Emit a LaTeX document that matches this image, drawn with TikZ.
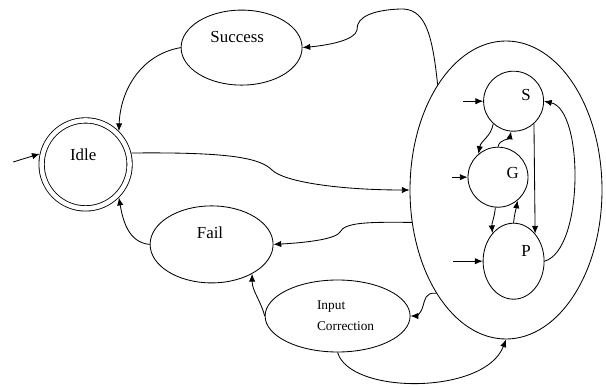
\documentclass[tikz,border=0pt]{standalone}
\usepackage{fontspec}
\setmainfont{Liberation Serif}
\usepackage{tikz}
\usetikzlibrary{arrows.meta}
\usetikzlibrary{shapes.geometric}
\tikzset{
  >={Latex[length=5.5pt,width=4.5pt]},
  medline/.style={draw=black,line width=0.6pt},
  medlinep/.style={draw=black,line width=0.6pt,->},
  statecirc/.style={draw=black,line width=0.6pt,circle,inner sep=0pt},
  stateell/.style={draw=black,line width=0.6pt,ellipse,inner sep=0pt},
  idlestate/.style={statecirc,double,double distance=3.2pt,outer sep=2.2pt},
  every label/.style={font=\fontsize{12}{14}\selectfont,inner sep=0pt}
}

\begin{document}
\begin{tikzpicture}
  \useasboundingbox (0,0) rectangle (15.15,-9.675);
  % outer states
  \node (IDLE)    at ( 2.14,-4.11) [idlestate,minimum size=2.2cm,label={[xshift=-0.06cm,yshift=0.24cm]center:Idle}] {};
  \node (SUCCESS) at ( 6.04,-1.19) [stateell,minimum width=3.025cm,minimum height=1.875cm,label={[xshift=-0.11cm,yshift=0.26cm]center:Success}] {};
  \node (FAIL)    at ( 5.29,-6.11) [stateell,minimum width=3.075cm,minimum height=1.925cm,label={[xshift=-0.04cm,yshift=0.29cm]center:Fail}] {};
  \node (IC)      at ( 8.44,-7.90) [stateell,minimum width=3.625cm,minimum height=1.8cm,label={[xshift=0.2cm,align=left,font=\fontsize{9.5}{15}\selectfont]center:Input\\Correction}] {};
  \node (BIG)     at (12.65,-4.75) [stateell,minimum width=4.8cm,minimum height=7.45cm] {};
  % inner states
  \node (S) at (12.84,-2.53) [statecirc,minimum size=1.5cm,label={[xshift=0.31cm,yshift=0.15cm]center:S}] {};
  \node (G) at (12.45,-4.43) [statecirc,minimum size=1.5cm,label={[xshift=0.37cm,yshift=0.1cm]center:G}] {};
  \node (P) at (12.84,-6.53) [stateell,minimum width=1.525cm,minimum height=1.9cm,label={[xshift=0.31cm,yshift=0.25cm]center:P}] {};
  \coordinate (IDLEIN) at ( 0.33,-4.05);
  \coordinate (SIN)    at (11.58,-2.53);
  \coordinate (GIN)    at (11.30,-4.43);
  \coordinate (PIN)    at (11.33,-6.53);
  \draw (IDLEIN) -- (IDLE.167) [medlinep];
  \draw (SUCCESS.west) to[out=190,in=88] (IDLE.45) [medlinep];
  \draw (IDLE.14) .. controls (5.75,-3.8) and (6.5,-3.95) .. (6.8,-4.25)
        .. controls (7.1,-4.55) and (8.5,-4.75) .. (BIG.west) [medlinep];
  \draw (BIG.123) .. controls (10.8,-0.75) and (10.6,-0.2) .. (10.0,-0.225)
        .. controls (9.375,-0.25) and (8.9,-0.4) .. (8.925,-0.75)
        .. controls (8.875,-1.0) and (8.25,-1.125) .. (SUCCESS.east) [medlinep];
  \draw (BIG.199) .. controls (9.25,-5.55) and (8.625,-5.55) .. (8.5,-5.8)
        .. controls (8.375,-6.0) and (7.5,-6.075) .. (FAIL.east) [medlinep];
  \draw (FAIL.west) to[out=175,in=-80] (IDLE.-45) [medlinep];
  \draw (IC.west) to[out=105,in=-90] (FAIL.-36) [medlinep];
  \draw (BIG.236) .. controls (10.625,-7.3) and (10.625,-7.5) .. (10.575,-7.65)
        .. controls (10.525,-7.85) and (10.4,-7.9) .. (IC.east) [medlinep];
  \draw (IC.south) .. controls (8.75,-9.875) and (12.125,-9.875) .. (BIG.south) [medlinep];
  % inside the big state
  \draw (SIN) -- (S.west) [medlinep];
  \draw (GIN) -- (G.west) [medlinep];
  \draw (PIN) -- (P.west) [medlinep];
  \draw (S.228) to[out=-100,in=80] (G.130) [medlinep];
  \draw (G.north) to[out=80,in=-100] (S.-95) [medlinep];
  \draw (G.-95) to[out=-95,in=95] (P.127) [medlinep];
  \draw (P.north) to[out=85,in=-100] (G.-50) [medlinep];
  \draw (S.-48) -- (P.52) [medlinep];
  \draw (P.east) .. controls (14.6,-6.25) and (14.6,-2.75) .. (S.east) [medlinep];
\end{tikzpicture}
\end{document}
